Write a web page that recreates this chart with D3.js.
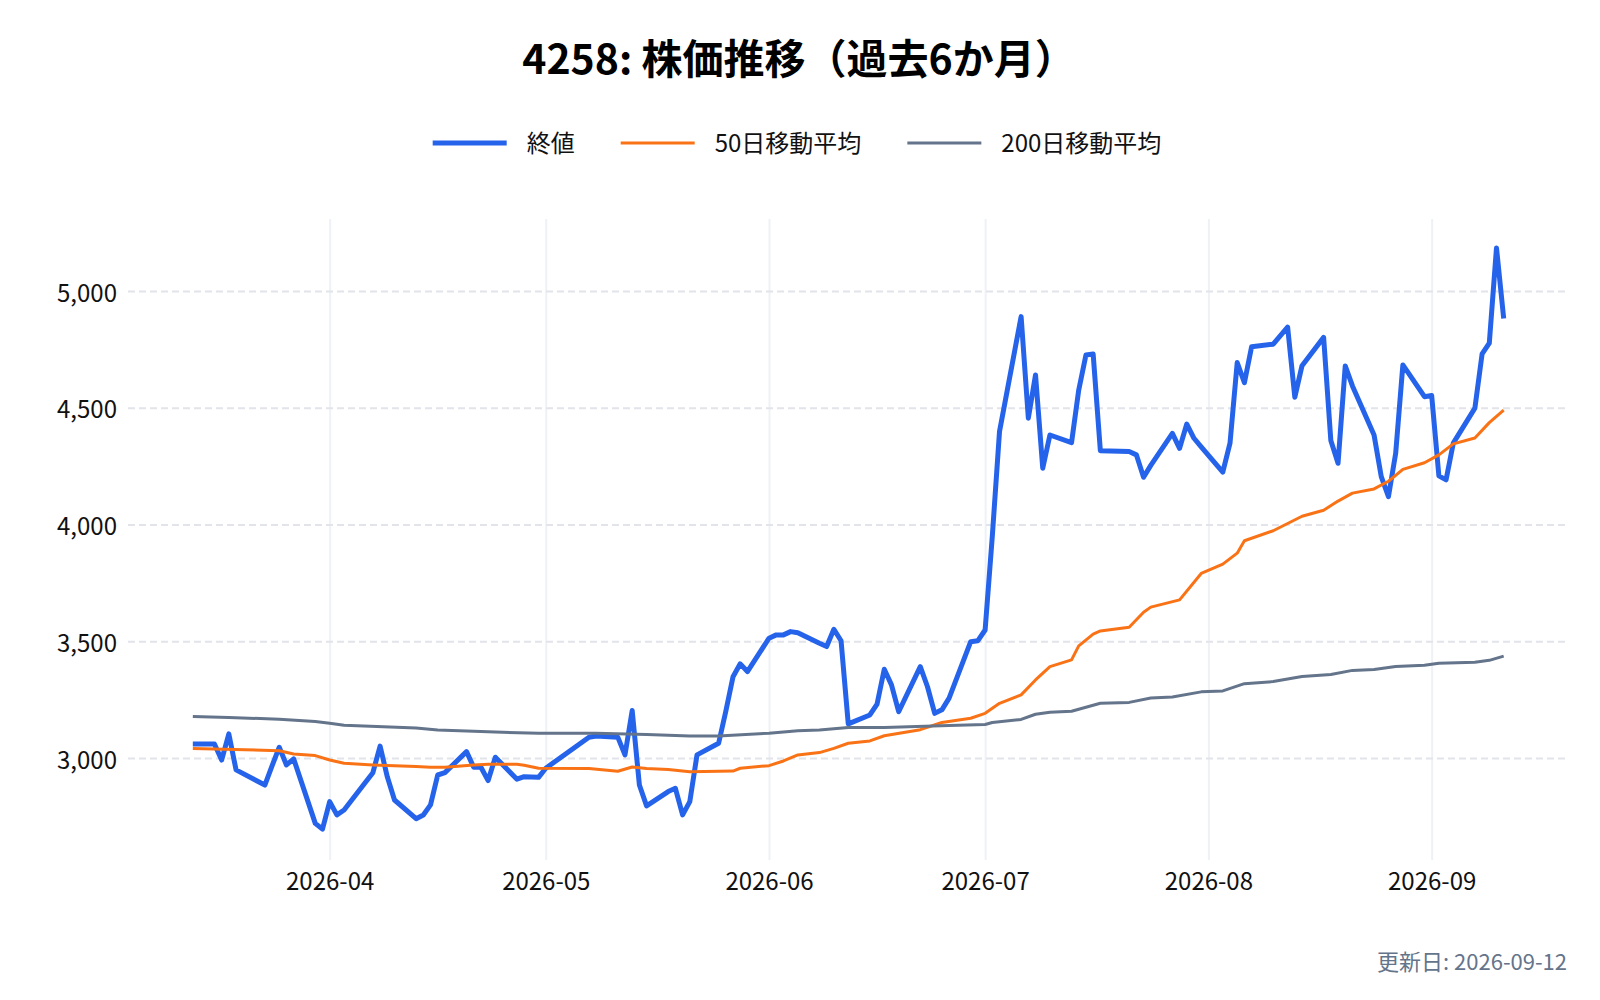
<!DOCTYPE html>
<html lang="ja">
<head>
<meta charset="utf-8">
<script src="https://cdn.jsdelivr.net/npm/d3@7"></script>
<style>
  html, body { margin: 0; padding: 0; background: #ffffff; }
  svg { display: block; font-family: "Noto Sans CJK JP", "Noto Sans", sans-serif; }
</style>
</head>
<body>
<svg id="chart" width="1600" height="1000"></svg>
<script>
// ---- data ----
const title = "4258: 株価推移（過去6か月）";
const footer = "更新日: 2026-09-12";
const seriesNames = ["終値", "50日移動平均", "200日移動平均"];
const seriesColors = ["#2563eb", "#f97316", "#64748b"];

const closeDates = [
  "2026-03-13","2026-03-16","2026-03-17","2026-03-18","2026-03-19","2026-03-23","2026-03-24","2026-03-25","2026-03-26","2026-03-27",
  "2026-03-30","2026-03-31","2026-04-01","2026-04-02","2026-04-03","2026-04-06","2026-04-07","2026-04-08","2026-04-09","2026-04-10",
  "2026-04-13","2026-04-14","2026-04-15","2026-04-16","2026-04-17","2026-04-20","2026-04-21","2026-04-22","2026-04-23","2026-04-24",
  "2026-04-27","2026-04-28","2026-04-30","2026-05-01","2026-05-07","2026-05-08","2026-05-11","2026-05-12","2026-05-13","2026-05-14",
  "2026-05-15","2026-05-18","2026-05-19","2026-05-20","2026-05-21","2026-05-22","2026-05-25","2026-05-26","2026-05-27","2026-05-28",
  "2026-05-29","2026-06-01","2026-06-02","2026-06-03","2026-06-04","2026-06-05","2026-06-08","2026-06-09","2026-06-10","2026-06-11",
  "2026-06-12","2026-06-15","2026-06-16","2026-06-17","2026-06-18","2026-06-19","2026-06-22","2026-06-23","2026-06-24","2026-06-25",
  "2026-06-26","2026-06-29","2026-06-30","2026-07-01","2026-07-02","2026-07-03","2026-07-06","2026-07-07","2026-07-08","2026-07-09",
  "2026-07-10","2026-07-13","2026-07-14","2026-07-15","2026-07-16","2026-07-17","2026-07-21","2026-07-22","2026-07-23","2026-07-24",
  "2026-07-27","2026-07-28","2026-07-29","2026-07-30","2026-07-31","2026-08-03","2026-08-04","2026-08-05","2026-08-06","2026-08-07",
  "2026-08-10","2026-08-12","2026-08-13","2026-08-14","2026-08-17","2026-08-18","2026-08-19","2026-08-20","2026-08-21","2026-08-24",
  "2026-08-25","2026-08-26","2026-08-27","2026-08-28","2026-08-31","2026-09-01","2026-09-02","2026-09-03","2026-09-04","2026-09-07",
  "2026-09-08","2026-09-09","2026-09-10","2026-09-11"
];
const closeValues = [
  3060,3060,2991,3103,2949,2884,2966,3046,2970,2996,
  2720,2695,2813,2756,2777,2897,2937,3051,2919,2820,
  2740,2756,2799,2927,2937,3027,2960,2960,2903,3003,
  2909,2920,2917,2956,3089,3094,3089,3013,3203,2884,
  2795,2856,2870,2756,2813,3013,3063,3200,3348,3403,
  3370,3513,3527,3527,3541,3536,3491,3477,3551,3502,
  3146,3184,3231,3380,3313,3198,3391,3305,3191,3206,
  3256,3498,3502,3548,3950,4398,4890,4455,4640,4241,
  4383,4350,4576,4726,4730,4316,4312,4298,4202,4253,
  4390,4326,4430,4369,4332,4224,4348,4693,4607,4761,
  4772,4845,4545,4680,4801,4359,4262,4679,4593,4383,
  4205,4119,4304,4683,4547,4552,4208,4191,4348,4498,
  4730,4776,5184,4882
];

const ma50Dates = [
  "2026-03-13","2026-03-25","2026-03-27","2026-03-30","2026-04-01","2026-04-03","2026-04-07","2026-04-13","2026-04-15","2026-04-17",
  "2026-04-21","2026-04-23","2026-04-27","2026-04-28","2026-04-30","2026-05-07","2026-05-11","2026-05-13","2026-05-15","2026-05-18",
  "2026-05-21","2026-05-27","2026-05-28","2026-06-01","2026-06-03","2026-06-05","2026-06-08","2026-06-10","2026-06-12","2026-06-15",
  "2026-06-17","2026-06-22","2026-06-25","2026-06-29","2026-07-01","2026-07-03","2026-07-06","2026-07-08","2026-07-10","2026-07-13",
  "2026-07-14","2026-07-16","2026-07-17","2026-07-21","2026-07-23","2026-07-24","2026-07-28","2026-07-31","2026-08-03","2026-08-05",
  "2026-08-06","2026-08-10","2026-08-12","2026-08-14","2026-08-17","2026-08-19","2026-08-21","2026-08-24","2026-08-26","2026-08-28",
  "2026-08-31","2026-09-02","2026-09-04","2026-09-07","2026-09-09","2026-09-11"
];
const ma50Values = [
  3041,3031,3017,3010,2991,2977,2970,2963,2960,2960,
  2970,2973,2973,2969,2956,2955,2943,2961,2955,2951,
  2941,2944,2956,2967,2987,3013,3023,3041,3063,3073,
  3095,3121,3152,3170,3191,3234,3270,3334,3391,3420,
  3480,3530,3544,3560,3624,3646,3677,3790,3830,3877,
  3930,3973,4004,4035,4061,4100,4134,4152,4185,4236,
  4264,4298,4345,4370,4436,4490
];

const ma200Dates = [
  "2026-03-13","2026-03-18","2026-03-25","2026-03-30","2026-04-01","2026-04-03","2026-04-13","2026-04-16","2026-04-24","2026-04-30",
  "2026-05-08","2026-05-15","2026-05-21","2026-05-25","2026-06-01","2026-06-05","2026-06-08","2026-06-12","2026-06-17","2026-06-26",
  "2026-07-01","2026-07-02","2026-07-06","2026-07-08","2026-07-10","2026-07-13","2026-07-17","2026-07-21","2026-07-24","2026-07-27",
  "2026-07-31","2026-08-03","2026-08-06","2026-08-10","2026-08-14","2026-08-18","2026-08-21","2026-08-24","2026-08-27","2026-08-31",
  "2026-09-02","2026-09-07","2026-09-09","2026-09-11"
];
const ma200Values = [
  3177,3173,3166,3156,3149,3140,3128,3120,3111,3106,
  3106,3100,3094,3094,3106,3117,3120,3130,3130,3139,
  3143,3152,3165,3187,3196,3200,3234,3238,3257,3261,
  3283,3287,3318,3327,3349,3357,3375,3379,3392,3397,
  3406,3410,3418,3436
];

const yTickValues = [3000, 3500, 4000, 4500, 5000];
const xTickMonths = ["2026-04-01","2026-05-01","2026-06-01","2026-07-01","2026-08-01","2026-09-01"];
const xDomainDates = ["2026-03-04T00:00:00Z", "2026-09-19T15:36:00Z"];
const yDomain = [2563, 5308];

// ---- drawing ----
const parse = s => new Date(s.length === 10 ? s + "T00:00:00Z" : s);
const svg = d3.select("#chart");
const W = 1600, H = 1000;
const plot = { left: 128, right: 1566, top: 219, bottom: 860 };

svg.append("rect").attr("width", W).attr("height", H).attr("fill", "#ffffff");

const x = d3.scaleUtc().domain(xDomainDates.map(parse)).range([plot.left, plot.right]);
const y = d3.scaleLinear().domain(yDomain).range([plot.bottom, plot.top]);

// vertical month gridlines + labels via axis
const xAxis = d3.axisBottom(x)
  .tickValues(xTickMonths.map(parse))
  .tickFormat(d3.utcFormat("%Y-%m"))
  .tickSize(-(plot.bottom - plot.top))
  .tickPadding(0);
const gx = svg.append("g").attr("transform", `translate(0,${plot.bottom})`).call(xAxis);
gx.select(".domain").remove();
gx.selectAll(".tick line").attr("stroke", "#eef1f5").attr("stroke-width", 2);
gx.selectAll(".tick text")
  .attr("y", 30).attr("dy", 0)
  .attr("fill", "#111111")
  .style("font-size", "24px")
  .style("font-family", '"Noto Sans CJK JP", "Noto Sans", sans-serif');

// horizontal dashed gridlines + labels via axis
const yAxis = d3.axisLeft(y)
  .tickValues(yTickValues)
  .tickFormat(d3.format(","))
  .tickSize(-(plot.right - plot.left))
  .tickPadding(11);
const gy = svg.append("g").attr("transform", `translate(${plot.left},0)`).call(yAxis);
gy.select(".domain").remove();
gy.selectAll(".tick line").attr("stroke", "#e2e4ea").attr("stroke-width", 2).attr("stroke-dasharray", "7,4");
gy.selectAll(".tick text")
  .attr("dy", "0.42em")
  .attr("fill", "#111111")
  .style("font-size", "24px")
  .style("font-family", '"Noto Sans CJK JP", "Noto Sans", sans-serif');

// series
const closeData = closeDates.map((d, i) => ({ date: parse(d), value: closeValues[i] }));
const ma50Data = ma50Dates.map((d, i) => ({ date: parse(d), value: ma50Values[i] }));
const ma200Data = ma200Dates.map((d, i) => ({ date: parse(d), value: ma200Values[i] }));

const line = d3.line().x(d => x(d.date)).y(d => y(d.value));

const series = [
  { data: closeData, color: seriesColors[0], width: 5 },
  { data: ma50Data, color: seriesColors[1], width: 3 },
  { data: ma200Data, color: seriesColors[2], width: 3 }
];
series.forEach(s => {
  svg.append("path")
    .datum(s.data)
    .attr("d", line)
    .attr("fill", "none")
    .attr("stroke", s.color)
    .attr("stroke-width", s.width)
    .attr("stroke-linejoin", "round")
    .attr("stroke-linecap", "butt");
});

// title
svg.append("text")
  .attr("x", 799).attr("y", 74)
  .attr("text-anchor", "middle")
  .attr("fill", "#000000")
  .style("font-size", "41px")
  .style("font-weight", "700")
  .text(title);

// legend
const legend = svg.append("g");
const sampleLen = 74, sampleGap = 20, itemGap = 46, legendY = 143;
let cursor = 0;
seriesNames.forEach((name, i) => {
  const g = legend.append("g");
  g.append("line")
    .attr("x1", 0).attr("x2", sampleLen)
    .attr("y1", legendY).attr("y2", legendY)
    .attr("stroke", seriesColors[i])
    .attr("stroke-width", series[i].width);
  const t = g.append("text")
    .attr("x", sampleLen + sampleGap).attr("y", legendY)
    .attr("dy", "0.36em")
    .attr("fill", "#111111")
    .style("font-size", "24px")
    .text(name);
  const w = sampleLen + sampleGap + t.node().getComputedTextLength();
  g.attr("transform", `translate(${cursor},0)`);
  cursor += w + itemGap;
});
const legendWidth = cursor - itemGap;
legend.attr("transform", `translate(${797 - legendWidth / 2},0)`);

// footer
svg.append("text")
  .attr("x", 1567).attr("y", 970)
  .attr("text-anchor", "end")
  .attr("fill", "#64748b")
  .style("font-size", "22px")
  .text(footer);
</script>
</body>
</html>
